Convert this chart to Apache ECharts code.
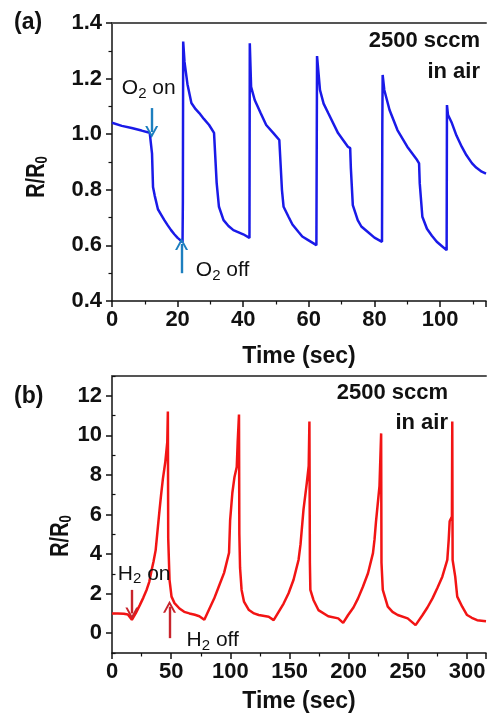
<!DOCTYPE html>
<html><head><meta charset="utf-8">
<script src="https://cdn.jsdelivr.net/npm/echarts@6/dist/echarts.min.js"></script>
<style>html,body{margin:0;padding:0;background:#fff}#c{width:489px;height:714px}</style>
</head><body><div id="c"></div>
<script>
// Panel (a): O2 response, time (s) and R/R0
const oTime = [0,3,6,9,11.5,12.0,12.2,12.5,13,14,15,16,17,18,19,20,21.5,21.6,21.7,22.1,23,24.2,25.5,26.6,28,29.6,31.1,31.7,31.9,32.6,34,35.5,37,40,41.9,42.0,42.4,43.5,45.3,47,49.2,51,51.6,51.8,52.3,53.8,55,56.8,58,59.8,62.3,62.5,63.4,64.5,65.9,68.9,71.9,72.6,72.8,73.4,74.9,76,77.9,80,82.3,82.4,82.5,83,84.6,87,90,93,93.6,93.8,94.6,96,97.5,99,100.5,102,102.1,102.4,103.6,105,106.6,108,109.7,111,112.7,114];
const oRatio = [1.041,1.030,1.022,1.013,1.005,1.000,0.93,0.81,0.78,0.73,0.71,0.69,0.672,0.655,0.64,0.627,0.612,0.755,1.333,1.26,1.18,1.112,1.09,1.076,1.055,1.033,1.005,1.0,0.825,0.739,0.691,0.67,0.655,0.64,0.627,1.327,1.17,1.123,1.076,1.033,1.004,0.979,0.975,0.80,0.739,0.703,0.675,0.649,0.632,0.619,0.601,1.281,1.159,1.11,1.076,1.004,0.955,0.950,0.88,0.745,0.691,0.668,0.649,0.628,0.613,1.04,1.213,1.159,1.087,1.015,0.955,0.907,0.895,0.824,0.703,0.66,0.635,0.613,0.598,0.583,1.105,1.07,1.04,0.995,0.955,0.925,0.896,0.88,0.865,0.858];
// Panel (b): H2 response
const hTime = [0,5,10,13.4,16.8,20,23.5,26.5,29.3,31.5,33.5,35,36.9,38.5,40.2,41.5,43,45,46.7,47.2,47.5,48.6,50.3,52.8,57,61,65.4,70,73.8,78,82,86.3,90.5,94.7,98.9,99.8,101.7,103.5,105.4,106.2,107.3,107.6,108.2,109.5,111.5,115.7,120,124,132.4,136.6,140.8,145,149.2,153.4,157.6,159.3,161.8,164.6,166.2,166.8,167.2,167.6,170.2,174.4,182.7,191.1,195.3,199.5,204,207.9,212,216.3,220.5,221.8,223,226,227.4,227.7,228.8,233,237,241.4,249.8,256.5,262.4,266.5,270.8,275,279.1,283.3,284.5,285.3,287.2,287.5,287.8,290,291.7,295.9,300,304,308.5,316];
const hRatio = [1.0,1.0,0.98,0.95,0.68,1.0,1.42,1.8,2.2,2.6,3.2,3.6,4.2,5.2,6.25,7.0,7.8,8.64,9.66,11.2,4.8,2.7,1.85,1.52,1.25,1.08,1.0,0.93,0.86,0.68,1.2,1.75,2.4,3.05,4.07,5.7,7.1,7.9,8.4,9.66,11.05,5.0,3.3,2.19,1.6,1.17,1.0,0.92,0.83,0.66,1.08,1.5,2.02,2.7,3.7,4.5,6.25,7.6,8.46,10.7,3.56,2.19,1.68,1.17,0.86,0.75,0.52,0.92,1.3,1.76,2.35,3.03,4.05,4.73,5.6,7.44,10.1,3.56,2.19,1.34,1.08,0.92,0.75,0.41,0.92,1.3,1.76,2.3,2.86,3.71,4.73,5.66,5.9,10.7,3.7,2.86,1.85,1.34,0.92,0.78,0.66,0.61];
const yTicksB = [0,2,4,6,8,10,12];
const yMinorB = [-1,1,3,5,7,9,11,13];

const FONT = 'Liberation Sans, Arial, sans-serif';
const INK = '#111';
const BLUE = '#1a1ae8';
const RED = '#f21414';
const ARROW_BLUE = '#1d7fbf';
const ARROW_RED = '#c8242c';
const zip = (a, b) => a.map((t, i) => [t, b[i]]);
const chevron = 'path://M0,12 L6,0 L12,12 L10,12 L6,4 L2,12 Z';

function xBottom(grid, max, interval, nameGap) {
  return {
    type: 'value', gridIndex: grid, min: 0, max: max, interval: interval, position: 'bottom',
    axisLine: { show: true, onZero: false, lineStyle: { color: INK, width: 1.5 } },
    axisTick: { show: true, inside: false, length: 6, lineStyle: { color: INK, width: 1.5 } },
    minorTick: { show: true, splitNumber: 2, length: 3.5, lineStyle: { color: INK, width: 1.2 } },
    axisLabel: { color: INK, fontSize: 22, fontWeight: 'bold', fontFamily: FONT, margin: 8,
      formatter: v => (Math.abs(v / interval - Math.round(v / interval)) < 1e-6 ? String(v) : '') },
    splitLine: { show: false }, minorSplitLine: { show: false },
    name: 'Time (sec)', nameLocation: 'middle', nameGap: nameGap,
    nameTextStyle: { color: INK, fontSize: 23, fontWeight: 'bold', fontFamily: FONT }
  };
}
function xTop(grid, max) {
  return {
    type: 'value', gridIndex: grid, min: 0, max: max, position: 'top',
    axisLine: { show: true, onZero: false, lineStyle: { color: '#555', width: 2 } },
    axisTick: { show: false }, axisLabel: { show: false }, splitLine: { show: false }
  };
}
const labelStyle = { color: INK, fontSize: 22, fontWeight: 'bold', fontFamily: FONT, margin: 10 };

function subLabel(main, sub, rest, size, color, weight) {
  return {
    show: true, position: 'inside', color: color,
    formatter: '{n|' + main + '}{s|' + sub + '}{n|' + rest + '}',
    rich: {
      n: { fontSize: size, fontFamily: FONT, fontWeight: weight, color: color, lineHeight: 26, verticalAlign: 'middle' },
      s: { fontSize: Math.round(size * 0.72), fontFamily: FONT, fontWeight: weight, color: color, lineHeight: 12, verticalAlign: 'bottom', padding: [11, 0, 0, 0] }
    }
  };
}
function arrow(x, y1, y2) { return [{ coord: [x, y1] }, { coord: [x, y2] }]; }
function textPoint(x, y, main, sub, rest) {
  return { coord: [x, y], value: 0, label: subLabel(main, sub, rest, 21, '#111', 'normal') };
}

const chart = echarts.init(document.getElementById('c'), null, { renderer: 'canvas' });
chart.setOption({
  animation: false,
  backgroundColor: '#fff',
  grid: [
    { left: 112, top: 23, width: 377, height: 278 },
    { left: 112, top: 376, width: 377, height: 278 }
  ],
  xAxis: [ xBottom(0, 114, 20, 44), xTop(0, 114), xBottom(1, 316, 50, 37), xTop(1, 316) ],
  yAxis: [
    {
      type: 'value', gridIndex: 0, min: 0.4, max: 1.4, interval: 0.2,
      axisLine: { show: true, onZero: false, lineStyle: { color: INK, width: 1.5 } },
      axisTick: { show: true, length: 6, lineStyle: { color: INK, width: 1.5 } },
      minorTick: { show: true, splitNumber: 2, length: 3.5, lineStyle: { color: INK, width: 1.2 } },
      axisLabel: Object.assign({ formatter: v => v.toFixed(1) }, labelStyle),
      splitLine: { show: false }, minorSplitLine: { show: false }
    },
    {
      type: 'value', gridIndex: 1, min: -1, max: 13,
      axisLine: { show: true, onZero: false, lineStyle: { color: INK, width: 1.5 } },
      axisTick: { show: true, length: 6, customValues: yTicksB, lineStyle: { color: INK, width: 1.5 } },
      axisLabel: Object.assign({ customValues: yTicksB }, labelStyle),
      splitLine: { show: false }
    },
    {
      type: 'value', gridIndex: 1, min: -1, max: 13,
      axisLine: { show: false },
      axisTick: { show: true, length: 3.5, customValues: yMinorB, lineStyle: { color: INK, width: 1.2 } },
      axisLabel: { show: false }, splitLine: { show: false }
    }
  ],
  series: [
    {
      type: 'line', xAxisIndex: 0, yAxisIndex: 0, data: zip(oTime, oRatio),
      showSymbol: false, symbol: 'none', lineStyle: { color: BLUE, width: 2.5 }, itemStyle: { color: BLUE },
      markLine: {
        silent: true, symbol: ['none', chevron], symbolSize: [13, 12],
        lineStyle: { color: ARROW_BLUE, width: 2.4, type: 'solid' }, label: { show: false },
        data: [ arrow(12.1, 1.094, 1.008), arrow(21.2, 0.50, 0.605) ]
      },
      markPoint: {
        silent: true, symbol: 'circle', symbolSize: 1, itemStyle: { color: 'rgba(0,0,0,0)' },
        data: [ textPoint(11.2, 1.166, 'O', '2', ' on'), textPoint(33.7, 0.512, 'O', '2', ' off') ]
      }
    },
    {
      type: 'line', xAxisIndex: 2, yAxisIndex: 1, data: zip(hTime, hRatio),
      showSymbol: false, symbol: 'none', lineStyle: { color: RED, width: 2.5 }, itemStyle: { color: RED },
      markLine: {
        silent: true, symbol: ['none', chevron], symbolSize: [13, 12],
        lineStyle: { color: ARROW_RED, width: 2.4, type: 'solid' }, label: { show: false },
        data: [ arrow(16.8, 2.19, 1.0), arrow(48.6, -0.25, 1.34) ]
      },
      markPoint: {
        silent: true, symbol: 'circle', symbolSize: 1, itemStyle: { color: 'rgba(0,0,0,0)' },
        data: [ textPoint(27.2, 3.0, 'H', '2', ' on'), textPoint(85.1, -0.36, 'H', '2', ' off') ]
      }
    }
  ],
  graphic: [
    { type: 'text', left: 14, top: 11, style: { text: '(a)', font: 'bold 23px ' + FONT, fill: INK } },
    { type: 'text', left: 14, top: 385, style: { text: '(b)', font: 'bold 23px ' + FONT, fill: INK } },
    { type: 'text', x: 480, y: 41, style: { text: '2500 sccm', font: 'bold 22px ' + FONT, fill: INK, align: 'right', verticalAlign: 'middle' } },
    { type: 'text', x: 480, y: 72, style: { text: 'in air', font: 'bold 22px ' + FONT, fill: INK, align: 'right', verticalAlign: 'middle' } },
    { type: 'text', x: 448, y: 393, style: { text: '2500 sccm', font: 'bold 22px ' + FONT, fill: INK, align: 'right', verticalAlign: 'middle' } },
    { type: 'text', x: 448, y: 423, style: { text: 'in air', font: 'bold 22px ' + FONT, fill: INK, align: 'right', verticalAlign: 'middle' } },
    {
      type: 'text', x: 37, y: 177, rotation: Math.PI / 2, scaleY: 1.25,
      style: {
        text: '{n|R/R}{s|0}', align: 'center', verticalAlign: 'middle',
        rich: {
          n: { font: 'bold 20px ' + FONT, fill: INK, lineHeight: 22, verticalAlign: 'middle' },
          s: { font: 'bold 13px ' + FONT, fill: INK, lineHeight: 10, verticalAlign: 'bottom', padding: [8, 0, 0, 0] }
        }
      }
    },
    {
      type: 'text', x: 61, y: 536, rotation: Math.PI / 2, scaleY: 1.25,
      style: {
        text: '{n|R/R}{s|0}', align: 'center', verticalAlign: 'middle',
        rich: {
          n: { font: 'bold 20px ' + FONT, fill: INK, lineHeight: 22, verticalAlign: 'middle' },
          s: { font: 'bold 13px ' + FONT, fill: INK, lineHeight: 10, verticalAlign: 'bottom', padding: [8, 0, 0, 0] }
        }
      }
    }
  ]
});
</script></body></html>
